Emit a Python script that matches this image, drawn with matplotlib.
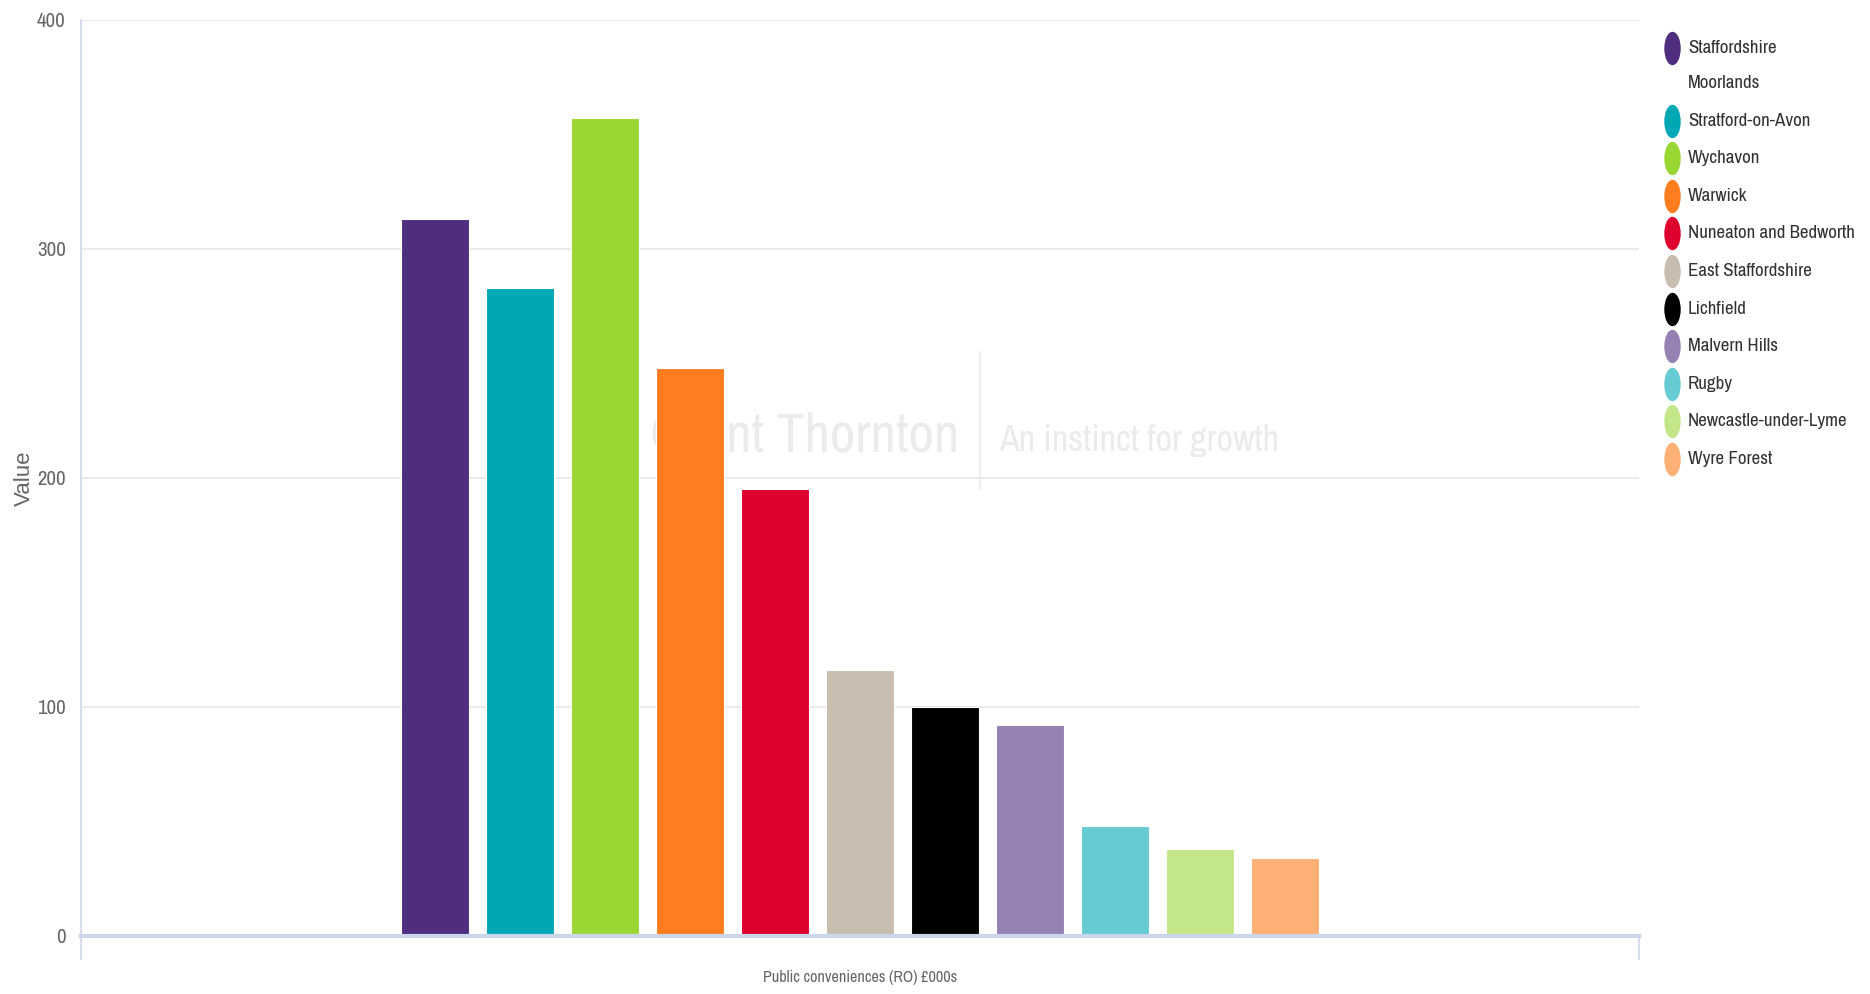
import matplotlib
matplotlib.use("Agg")
import matplotlib.pyplot as plt
from matplotlib.lines import Line2D
from matplotlib.path import Path
from matplotlib.transforms import Affine2D

# Public conveniences spend per district, £000s
districts = ["Staffordshire\nMoorlands", "Stratford-on-Avon", "Wychavon", "Warwick",
             "Nuneaton and Bedworth", "East Staffordshire", "Lichfield", "Malvern Hills",
             "Rugby", "Newcastle-under-Lyme", "Wyre Forest"]
values = [313, 283, 357, 248, 195, 116, 100, 92, 48, 38, 34]
colors = ["#4f2d7f", "#00a7b5", "#9bd732", "#ff7d1e", "#de002e", "#c8beaf",
          "#000000", "#9681b3", "#66cbd2", "#c3e788", "#ffb074"]
category = "Public conveniences (RO) £000s"
yticks = [0, 100, 200, 300, 400]

narrow = ["Archivo Narrow", "Liberation Sans", "DejaVu Sans"]
axis_blue = "#ccd6eb"

fig = plt.figure(figsize=(18.7, 9.94), dpi=100)
ax = fig.add_axes([0.0433, 0.0584, 0.8332, 0.9215])

# one category, series grouped side by side (group padding 0.2, point padding 0.1)
n = len(values)
group_w = 0.6
slot = group_w / n
for i, (name, v, c) in enumerate(zip(districts, values, colors)):
    x = -group_w / 2 + slot * (i + 0.5)
    ax.bar(x, v, width=slot * 0.8, color=c, edgecolor="white", linewidth=0.8, zorder=3)

ax.set_xlim(-0.5, 0.5)
ax.set_ylim(0, 400)
ax.set_yticks(yticks)
ax.set_yticklabels([str(t) for t in yticks], family=narrow, fontsize=15, color="#666666")
ax.tick_params(axis="y", length=0, pad=11)
ax.set_xticks([-0.5, 0.5])
ax.set_xticklabels(["", ""])
ax.tick_params(axis="x", length=17, width=1.2, color=axis_blue, direction="out")
ax.grid(axis="y", color="#e6e6e6", linewidth=1.2, zorder=0)
ax.set_axisbelow(True)

for side in ["top", "right"]:
    ax.spines[side].set_visible(False)
ax.spines["left"].set_color(axis_blue)
ax.spines["left"].set_linewidth(1.2)
ax.spines["bottom"].set_color(axis_blue)
ax.spines["bottom"].set_linewidth(3)
ax.spines["bottom"].set_zorder(4)

ax.set_ylabel("Value", fontsize=16, color="#666666", family=["Liberation Sans", "DejaVu Sans"])
ax.yaxis.set_label_coords(-0.0296, 0.5)
ax.text(0.5, -0.045, category, transform=ax.transAxes, ha="center", va="center",
        fontsize=11.6, color="#666666", family=narrow)

# watermark behind the columns
wm = "#ebebeb"
ax.text(0.564, 0.529, "Grant Thornton", transform=ax.transAxes, ha="right", va="baseline",
        fontsize=40, color=wm, family=narrow, zorder=1)
ax.text(0.589, 0.529, "An instinct for growth", transform=ax.transAxes, ha="left",
        va="baseline", fontsize=26, color=wm, family=narrow, zorder=1)
ax.plot([0.577, 0.577], [0.488, 0.638], transform=ax.transAxes, color=wm, linewidth=1.2,
        zorder=1)

# legend with tall oval markers
oval = Path.unit_circle().transformed(Affine2D().scale(0.47, 1.0))
lx_marker = 1672 / 1870
lx_text = 1688 / 1870
y = 48
for name, c in zip(districts, colors):
    fig.add_artist(Line2D([lx_marker], [1 - y / 994], marker=oval, markersize=23, color=c,
                          linestyle="none", transform=fig.transFigure))
    for k, line in enumerate(name.split("\n")):
        if k > 0:
            y += 35
        fig.text(lx_text, 1 - y / 994, line, ha="left", va="center", fontsize=13.6,
                 color="#333333", family=narrow)
    y += 37.6

fig.savefig("out.png", dpi=100, facecolor="white")
